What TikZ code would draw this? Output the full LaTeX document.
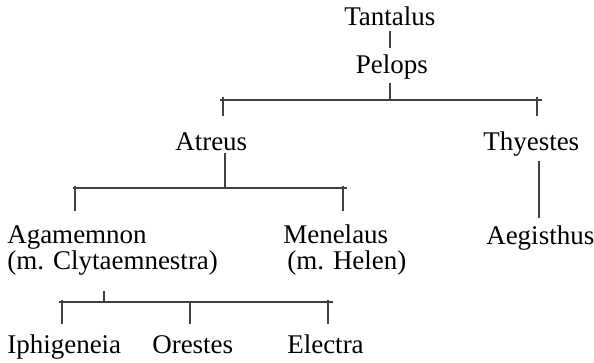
\documentclass[tikz,border=0pt]{standalone}
\usepackage{fontspec}
\setmainfont{Liberation Serif}
\begin{document}
\begin{tikzpicture}[x=0.75pt,y=-0.75pt,
  person/.style={anchor=base west,inner sep=0pt,font=\fontsize{20.25}{24}\selectfont},
  link/.style={line width=0.8pt,draw=black!75}]
\useasboundingbox (0,0) rectangle (594,362);
% people
\node[person] (tan) at (344,25) {Tantalus};
\node[person] (pel) at (355.5,73) {Pelops};
\node[person] (atr) at (175,150) {Atreus};
\node[person] (thy) at (483,150) {Thyestes};
\node[person] (aga) at (7,243) {Agamemnon};
\node[person] (agam) at (7,269.5) {(m. Clytaemnestra)};
\node[person] (men) at (283,243) {Menelaus};
\node[person] (menm) at (287,269.5) {(m. Helen)};
\node[person] (aeg) at (486,244) {Aegisthus};
\node[person] (iph) at (7,353) {Iphigeneia};
\node[person] (ore) at (152,353) {Orestes};
\node[person] (ele) at (287,353) {Electra};
% junction coordinates
\coordinate (tanS) at (390,31);
\coordinate (pelN) at (390,48);
\coordinate (pelS) at (390,83);
\coordinate (b1) at (390,100);
\coordinate (b1l) at (220,100);
\coordinate (b1r) at (542,100);
\coordinate (atrN0) at (223,97);
\coordinate (atrN) at (223,116);
\coordinate (thyN0) at (537,97);
\coordinate (thyN) at (537,116);
\coordinate (atrS) at (225,153);
\coordinate (b2) at (225,188);
\coordinate (b2l) at (73,188);
\coordinate (b2r) at (347,188);
\coordinate (agaN0) at (75,186);
\coordinate (agaN) at (75,211);
\coordinate (menN0) at (343,186);
\coordinate (menN) at (343,211);
\coordinate (thyS) at (539,161);
\coordinate (aegN) at (539,218);
\coordinate (agamS) at (104,291);
\coordinate (b3) at (104,302);
\coordinate (b3l) at (59,302);
\coordinate (b3r) at (333,302);
\coordinate (iphN0) at (62,300);
\coordinate (iphN) at (62,324);
\coordinate (oreN0) at (190,302);
\coordinate (oreN) at (190,324);
\coordinate (eleN0) at (328,300);
\coordinate (eleN) at (328,324);
% connectors
\draw[link] (tanS) -- (pelN);
\draw[link] (pelS) -- (b1);
\draw[link] (b1l) -- (b1r);
\draw[link] (atrN0) -- (atrN);
\draw[link] (thyN0) -- (thyN);
\draw[link] (atrS) -- (b2);
\draw[link] (b2l) -- (b2r);
\draw[link] (agaN0) -- (agaN);
\draw[link] (menN0) -- (menN);
\draw[link] (thyS) -- (aegN);
\draw[link] (agamS) -- (b3);
\draw[link] (b3l) -- (b3r);
\draw[link] (iphN0) -- (iphN);
\draw[link] (oreN0) -- (oreN);
\draw[link] (eleN0) -- (eleN);
\end{tikzpicture}
\end{document}
